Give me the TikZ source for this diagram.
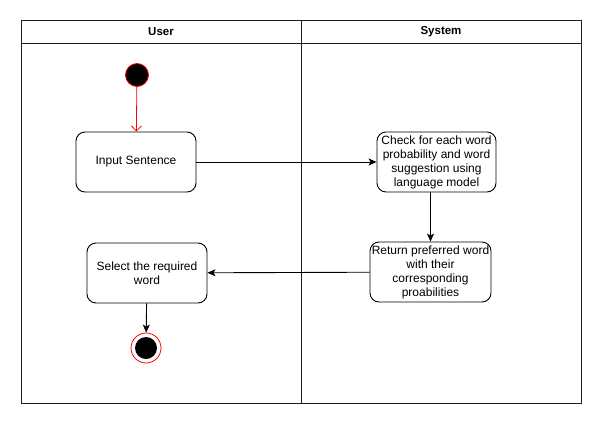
\documentclass[tikz,border=0pt]{standalone}
\usepackage{fontspec}
\setmainfont{Liberation Sans}
\usepackage{xcolor}
\usepackage{tikz}
\usetikzlibrary{shapes,arrows.meta,positioning,calc}
\definecolor{LaneGrey}{RGB}{30, 30, 30}
\definecolor{StartRed}{RGB}{255, 0, 0}
\tikzstyle{lane} = [draw=LaneGrey, line width=1pt]
\tikzstyle{lanetitle} = [font=\bfseries\fontsize{11.5}{13}\selectfont]
\tikzstyle{activity} = [rectangle, rounded corners=9pt, minimum width=120pt, minimum height=60pt, align=center, draw=black, line width=0.9pt, font=\fontsize{12}{14}\selectfont, inner sep=1pt]
\tikzstyle{startstate} = [circle, minimum size=23pt, inner sep=0pt, draw=StartRed, fill=black, line width=0.8pt]
\tikzstyle{endstate} = [circle, minimum size=30pt, inner sep=0pt, draw=StartRed, fill=white, line width=0.8pt]
\tikzstyle{enddot} = [circle, minimum size=22pt, inner sep=0pt, fill=black]
\tikzstyle{arrow} = [line width=0.9pt, -{Stealth[length=8pt, width=7pt, inset=2pt]}]
\tikzstyle{redarrow} = [line width=0.8pt, draw=StartRed, -{Straight Barb[length=5pt, width=10pt]}]

\begin{document}
\begin{tikzpicture}[x=1pt, y=-1pt]
\useasboundingbox (0,0) rectangle (601,423);

% Lanes
\draw [lane] (21,20) rectangle (581,403);
\draw [lane] (21,43) -- (581,43);
\draw [lane] (301,20) -- (301,403);
\node (user) [lanetitle] at (161,32) {User};
\node (system) [lanetitle] at (441,32) {System};

% Start
\node (start) [startstate] at (137,75) {};

% User lane
\node (input) [activity] at (136,162) {Input Sentence};
\node (select) [activity] at (147,273) {Select the required\\word};

% System lane
\node (check) [activity, minimum width=119pt] at (436.5,162) {Check for each word\\probability and word\\suggestion using\\language model};
\node (return) [activity, minimum width=121pt] at (430.5,272) {Return preferred word\\with their\\corresponding\\proabilities};

% End
\node (final) [endstate] at (146,348) {};
\node (finaldot) [enddot] at (final) {};

% Arrows
\draw [redarrow] (start) -- (input);
\draw [arrow] (input) -- (check);
\draw [arrow] (check.south -| return) -- (return);
\draw [arrow] (return) -- (select);
\draw [arrow] (select) -- (final);

\end{tikzpicture}
\end{document}
